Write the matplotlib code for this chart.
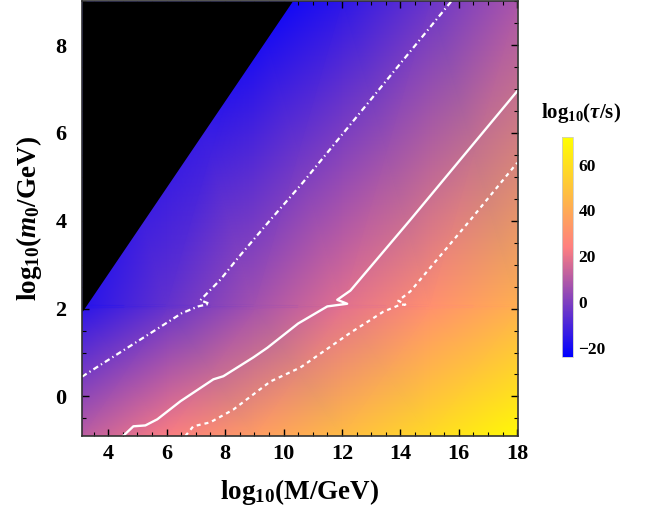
import numpy as np
import matplotlib
matplotlib.use('Agg')
import matplotlib.pyplot as plt
from matplotlib.colors import LinearSegmentedColormap
from matplotlib.ticker import MultipleLocator

plt.rcParams['font.family'] = 'Liberation Serif'
plt.rcParams['font.weight'] = 'bold'
plt.rcParams['mathtext.fontset'] = 'custom'
plt.rcParams['mathtext.rm'] = 'Liberation Serif:bold'
plt.rcParams['mathtext.it'] = 'Liberation Serif:bold:italic'
plt.rcParams['mathtext.bf'] = 'Liberation Serif:bold'

# log10(tau/s) at a coarse grid of nodes
grid_x = [3.1, 6, 9, 12, 15, 18]
grid_y = [-0.9, 2.0, 2.05, 2.1, 9.0]
log_tau = [
    [11.5, 22.9, 34.6, 46.3, 58.0, 69.7],
    [-15.6, -4.3, 7.4, 19.1, 30.8, 42.5],
    [-17.0, -5.7, 6.0, 17.7, 29.4, 41.1],
    [-16.6, -5.3, 6.4, 18.1, 29.8, 41.5],
    [-50.2, -38.9, -27.2, -15.5, -3.8, 7.9],
]

# excluded (black) corner, edge of the allowed region
edge_x = [3.1, 10.3]
edge_y = [1.93, 9.0]

# contour lines
dashdot_x = [3.1, 4.4, 5.8, 6.5, 7.08, 7.47, 7.15, 7.84, 8.45, 9.55, 10.65, 15.75]
dashdot_y = [0.45, 1.0, 1.59, 1.89, 2.05, 2.11, 2.19, 2.66, 3.16, 4.02, 4.86, 9.0]

solid_x = [4.51, 4.86, 5.27, 5.68, 6.47, 7.6, 7.94, 8.97, 9.45, 10.5, 11.5, 12.18, 11.84, 12.29, 14.34, 18.0]
solid_y = [-0.9, -0.68, -0.66, -0.52, -0.11, 0.39, 0.46, 0.89, 1.11, 1.66, 2.05, 2.11, 2.2, 2.41, 4.02, 6.95]

dotted_x = [6.64, 6.91, 7.49, 8.28, 9.55, 10.58, 12.29, 13.42, 14.0, 14.17, 13.93, 14.34, 16.4, 18.0]
dotted_y = [-0.9, -0.68, -0.59, -0.3, 0.34, 0.66, 1.45, 1.93, 2.09, 2.09, 2.18, 2.39, 4.02, 5.32]

cmap = LinearSegmentedColormap.from_list('sunset', [(0, 0, 1), (1, 0.5, 0.5), (1, 1, 0)])
cmap.set_under((0, 0, 1))
cmap.set_over((1, 1, 0))

fig = plt.figure(figsize=(6.47, 5.14), dpi=100)
ax = fig.add_axes([0.1267, 0.1518, 0.674, 0.846])

X, Y = np.meshgrid(grid_x, grid_y)
mesh = ax.pcolormesh(X, Y, np.array(log_tau), cmap=cmap, vmin=-24, vmax=72,
                     shading='gouraud', rasterized=True)

ax.fill_between(edge_x, edge_y, 9.0, color='black', lw=0)

ax.plot(dashdot_x, dashdot_y, color='white', lw=1.6, ls=(0, (2.5, 1.5, 0.6, 1.5)))
ax.plot(solid_x, solid_y, color='white', lw=1.7)
ax.plot(dotted_x, dotted_y, color='white', lw=1.6, ls=(0, (1.8, 1.8)))

ax.set_xlim(3.1, 18.03)
ax.set_ylim(-0.9, 9.0)
ax.xaxis.set_major_locator(MultipleLocator(2))
ax.xaxis.set_minor_locator(MultipleLocator(0.5))
ax.yaxis.set_major_locator(MultipleLocator(2))
ax.yaxis.set_minor_locator(MultipleLocator(0.5))
ax.tick_params(which='both', direction='in', top=True, right=True, labelsize=16)
ax.tick_params(axis='x', pad=6)
ax.tick_params(axis='y', pad=11)
ax.tick_params(which='major', length=5, width=1)
ax.tick_params(which='minor', length=3, width=0.8)
for s in ax.spines.values():
    s.set_color('#333333')
    s.set_linewidth(1.2)

ax.set_xlabel(r'$\mathrm{log}_{10}(\mathrm{M/GeV})$', fontsize=19.5, labelpad=9)
ax.set_ylabel(r'$\mathrm{log}_{10}(m_0/\mathrm{GeV})$', fontsize=19.5, labelpad=8)

cax = fig.add_axes([0.8686, 0.3054, 0.017, 0.428])
cb = fig.colorbar(mesh, cax=cax, ticks=[-20, 0, 20, 40, 60])
cb.ax.tick_params(length=0, labelsize=12.5, pad=4)
cb.outline.set_edgecolor('#cccccc')
cb.outline.set_linewidth(0.6)
cax.text(1.75, 1.11, r'$\mathrm{log}_{10}(\tau/\mathrm{s})$', fontsize=15,
         ha='center', va='center', transform=cax.transAxes)

fig.savefig('out.png', dpi=100)
